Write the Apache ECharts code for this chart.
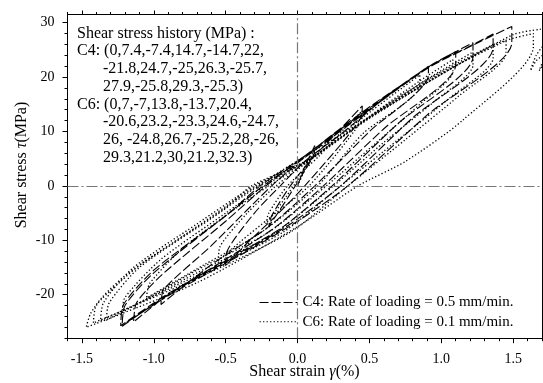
<!DOCTYPE html>
<html><head><meta charset="utf-8">
<script src="https://cdn.jsdelivr.net/npm/echarts@6/dist/echarts.min.js"></script>
<style>html,body{margin:0;padding:0;background:#fff}#c{width:543px;height:383px}</style>
</head><body><div id="c"></div>
<script>
// ---- data ----
const xMajorTicks = [-1.5, -1.0, -0.5, 0.0, 0.5, 1.0, 1.5];
const xMinorTicks = [-1.6,-1.5,-1.4,-1.3,-1.2,-1.1,-1.0,-0.9,-0.8,-0.7,-0.6,-0.5,-0.4,-0.3,-0.2,-0.1,0,0.1,0.2,0.3,0.4,0.5,0.6,0.7,0.8,0.9,1.0,1.1,1.2,1.3,1.4,1.5,1.6,1.7];
const yMajorTicks = [-20, -10, 0, 10, 20, 30];
const yMinorTicks = [-28,-26,-24,-22,-20,-18,-16,-14,-12,-10,-8,-6,-4,-2,0,2,4,6,8,10,12,14,16,18,20,22,24,26,28,30];

const seriesNames = ['C4: Rate of loading = 0.5 mm/min.', 'C6: Rate of loading = 0.1 mm/min.'];

// C4 path: shear strain (%) and shear stress (MPa)
const c4Strain = [0,0.05,0.12,0.11,-0.1,-0.2,-0.18,-0.05,0.1,0.3,0.45,0.44,0.05,-0.15,-0.35,-0.5,-0.49,-0.3,-0.12,0.05,0.3,0.6,0.91,0.91,0.5,0.12,-0.2,-0.6,-0.95,-0.93,-0.6,-0.18,0.15,0.5,0.91,1.1,1.1,0.6,0.18,-0.15,-0.5,-0.9,-1.14,-1.12,-0.95,-0.5,-0.22,0.1,0.5,0.91,1.22,1.22,0.7,0.24,-0.1,-0.45,-0.9,-1.23,-1.21,-1.0,-0.5,-0.26,0.05,0.5,0.91,1.2,1.36,1.36,0.8,0.3,-0.05,-0.4,-0.9,-1.22,-1.2,-1.0,-0.45,-0.24,0.05,0.5,0.91,1.2,1.49,1.49,0.9,0.35,0,-0.35,-0.9,-1.2];
const c4Stress = [0,3.5,7.4,5.5,-3.5,-7.4,-5.5,0,5,10.5,14.7,12.5,0,-5.5,-10.5,-14.7,-12,-5,0,4.5,9.5,16,22,20.4,10,0,-7.5,-14.5,-21.8,-19,-11,0,7.5,14.5,21.8,24.7,22.2,10.5,0,-7.5,-13.5,-20,-25,-21.5,-16.5,-6.5,0,6.5,14.3,21.9,26.3,23.7,11.5,0,-7.5,-13,-19.8,-25.7,-21.8,-15.5,-5.5,0,5.5,14.1,21.8,25.7,27.9,25.4,12.5,0,-7,-12.5,-20,-25.8,-22,-16,-4.5,0,5.2,14.0,21.7,25.6,29.3,26.3,13,0,-6.5,-12,-20.2,-25.3];

// C6 path
const c6Strain = [0,0.06,0.12,0.11,-0.08,-0.22,-0.2,-0.07,0.15,0.3,0.45,0.44,0.08,-0.2,-0.4,-0.55,-0.54,-0.35,-0.15,0.1,0.45,0.85,0.85,0.45,0.14,-0.25,-0.65,-1.05,-1.03,-0.8,-0.45,-0.2,0.1,0.5,0.85,1.08,1.08,0.85,0.55,0.2,-0.2,-0.7,-1.22,-1.2,-0.95,-0.5,-0.23,0.1,0.5,0.9,1.22,1.22,0.95,0.6,0.25,-0.15,-0.7,-1.33,-1.31,-1.1,-0.6,-0.27,0.1,0.5,0.9,1.36,1.36,1.05,0.7,0.3,-0.1,-0.7,-1.37,-1.35,-1.15,-0.7,-0.3,0.08,0.5,0.95,1.45,1.45,1.12,0.75,0.35,-0.05,-0.7,-1.42,-1.4,-1.24,-1.08,-0.87,-0.5,-0.32,0.05,0.5,1.0,1.4,1.64,1.64,1.15,0.75,0.42,0,-0.7,-1.47,-1.44,-1.36,-1.2,-1.0,-0.7,-0.4,-0.05,0.5,1.0,1.5,1.69,1.82,1.82,1.66,1.62,1.66,1.75,1.9,1.9,1.72,1.68,1.75,2.05];
const c6Stress = [0,3.5,7,5.5,-2,-7,-5,0,5.5,9.8,13.8,11.8,0,-6,-10.3,-13.7,-11.2,-5,0,5,12.5,20.4,18.5,9.5,0,-8.5,-14.5,-20.6,-18,-11.5,-4.5,0,5,12.8,19.3,23.2,21,15,8,0,-8.5,-15.5,-23.3,-20.5,-13.5,-5,0,5.2,12.7,19.6,24.6,22.2,15.5,8,0,-8.5,-16,-24.7,-21.5,-15,-6,0,5,12.6,19.5,26,23.5,16,8.5,0,-8.5,-16.5,-24.8,-21.5,-15.2,-7,0,4.8,12.5,20,26.7,24.4,16.5,8.5,0,-8.5,-17,-25.2,-22,-17.8,-14.2,-10.5,-4,0,4.5,12.4,20.5,26.3,28,25.6,12.1,4.5,0,-7.5,-17.8,-26,-23.5,-20.5,-16.5,-12.8,-7.5,-2,3.8,12.6,20.5,27.8,28.8,29.3,27,23,21.2,24,27,30,27.5,22.5,21.2,25,32.3];

const historyLines = [
  ['Shear stress history (MPa) :', 0],
  ['C4: (0,7.4,-7.4,14.7,-14.7,22,', 0],
  ['-21.8,24.7,-25,26.3,-25.7,', 1],
  ['27.9,-25.8,29.3,-25.3)', 1],
  ['C6: (0,7,-7,13.8,-13.7,20.4,', 0],
  ['-20.6,23.2,-23.3,24.6,-24.7,', 1],
  ['26, -24.8,26.7,-25.2,28,-26,', 1],
  ['29.3,21.2,30,21.2,32.3)', 1]
];

// ---- chart ----
const FONT = '"Liberation Serif", "Times New Roman", serif';
const zip = (a, b) => a.map((v, i) => [v, b[i]]);
const chart = echarts.init(document.getElementById('c'), null, {renderer: 'canvas'});

const X0 = -1.6, X1 = 1.7, Y0 = -28, Y1 = 31.5;
const axisLineStyle = {color: '#000', width: 1};
function xAx(pos, ticks, len, labels) {
  return {
    type: 'value', position: pos, min: X0, max: X1,
    axisLine: {show: true, onZero: false, lineStyle: axisLineStyle},
    axisTick: {show: true, inside: false, length: len, customValues: ticks, lineStyle: axisLineStyle},
    axisLabel: labels ? {show: true, customValues: xMajorTicks, margin: 14, formatter: v => v.toFixed(1),
      fontSize: 14, fontFamily: FONT, color: '#000'} : {show: false},
    splitLine: {show: false}
  };
}
function yAx(pos, ticks, len, labels) {
  return {
    type: 'value', position: pos, min: Y0, max: Y1,
    axisLine: {show: true, onZero: false, lineStyle: axisLineStyle},
    axisTick: ticks ? {show: true, inside: false, length: len, customValues: ticks, lineStyle: axisLineStyle} : {show: false},
    axisLabel: labels ? {show: true, customValues: yMajorTicks, margin: 13, formatter: v => String(v),
      fontSize: 14, fontFamily: FONT, color: '#000'} : {show: false},
    splitLine: {show: false}
  };
}

const gfx = historyLines.map((l, i) => ({
  type: 'text', x: l[1] ? 103 : 77, y: 33.5 + i * 17.7,
  style: {text: l[0], font: '16px ' + FONT, fill: '#000', verticalAlign: 'middle'}
}));
gfx.push({
  type: 'text', x: 22, y: 165, rotation: Math.PI / 2,
  style: {text: 'Shear stress {i|τ}(MPa)', font: '16px ' + FONT, fill: '#000', align: 'center', verticalAlign: 'middle',
    rich: {i: {fontStyle: 'italic', fontSize: 16, fontFamily: FONT}}}
});
gfx.push({
  type: 'text', x: 304.5, y: 372,
  style: {text: 'Shear strain {i|γ}(%)', font: '16px ' + FONT, fill: '#000', align: 'center', verticalAlign: 'middle',
    rich: {i: {fontStyle: 'italic', fontSize: 16, fontFamily: FONT}}}
});

chart.setOption({
  animation: false,
  backgroundColor: '#fff',
  grid: {left: 67.5, top: 14.5, width: 474.5, height: 323.7, containLabel: false, outerBoundsMode: 'none'},
  xAxis: [xAx('bottom', xMajorTicks, 5, true), xAx('bottom', xMinorTicks, 3, false), xAx('top', xMajorTicks, 4, false), xAx('top', xMinorTicks, 2.5, false)],
  yAxis: [yAx('left', yMajorTicks, 5, true), yAx('left', yMinorTicks, 3, false), yAx('right', null, 0, false)],
  legend: {
    orient: 'vertical', left: 254, top: 290, itemWidth: 38, itemHeight: 14, itemGap: 4.3,
    itemStyle: {opacity: 0, borderWidth: 0},
    lineStyle: {width: 1.1, color: '#000'},
    textStyle: {fontSize: 15, fontFamily: FONT, color: '#000'},
    data: seriesNames
  },
  graphic: gfx,
  series: [
    {
      name: seriesNames[0], type: 'line', xAxisIndex: 0, yAxisIndex: 0,
      data: zip(c4Strain, c4Stress), showSymbol: false, symbol: 'none', smooth: 0.25,
      lineStyle: {color: '#000', width: 1.1, type: [9, 3]}, itemStyle: {color: '#000'}, z: 3,
      markLine: {
        silent: true, symbol: ['none', 'none'], label: {show: false},
        lineStyle: {color: '#777', width: 1.2, type: [11, 3, 2, 3]},
        data: [{xAxis: 0}, {yAxis: 0}]
      }
    },
    {
      name: seriesNames[1], type: 'line', xAxisIndex: 0, yAxisIndex: 0,
      data: zip(c6Strain, c6Stress), showSymbol: false, symbol: 'none', smooth: 0.25,
      lineStyle: {color: '#000', width: 1.3, type: [1.3, 2.2]}, itemStyle: {color: '#000'}, z: 3
    }
  ]
});
</script></body></html>
